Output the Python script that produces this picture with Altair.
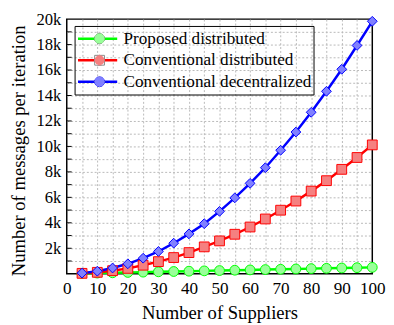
import altair as alt
import pandas as pd

suppliers = [5, 10, 15, 20, 25, 30, 35, 40, 45, 50, 55, 60, 65, 70, 75, 80, 85, 90, 95, 100]
proposed = [25, 50, 75, 100, 125, 150, 175, 200, 225, 250, 275, 300, 325, 350, 375, 400, 425, 450, 475, 500]
conv_distributed = [30, 110, 240, 420, 670, 950, 1270, 1660, 2110, 2580, 3100, 3670, 4300, 4990, 5710, 6490, 7310, 8200, 9130, 10120]
conv_decentralized = [50, 200, 450, 780, 1220, 1750, 2400, 3130, 3930, 4900, 5960, 7100, 8330, 9700, 11130, 12680, 14330, 16060, 17930, 19830]

series_names = ["Proposed distributed", "Conventional distributed", "Conventional decentralized"]
line_colors = ["#00ff00", "#ff0000", "#0000ff"]
fill_colors = ["#99ff99", "#f58080", "#8080ff"]
shapes = ["circle", "square", "diamond"]

x_ticks = list(range(0, 101, 5))
y_ticks = list(range(0, 20001, 1000))
y_inner_ticks = list(range(1000, 20000, 1000))

rows = []
for name, vals in zip(series_names, [proposed, conv_distributed, conv_decentralized]):
    for n, v in zip(suppliers, vals):
        rows.append({"n": n, "msgs": v, "series": name})
df = pd.DataFrame(rows)
ticks_df = pd.DataFrame({"msgs": y_inner_ticks})

FONT = "Liberation Serif"
x_scale = alt.Scale(domain=[0, 100], nice=False, zero=False)
y_scale = alt.Scale(domain=[0, 20000], nice=False)

x_axis = alt.Axis(
    values=x_ticks,
    labelExpr="datum.value % 10 == 0 ? datum.label : ''",
    title="Number of Suppliers",
    titleFont=FONT, titleFontSize=19, titleFontWeight="normal", titleColor="black",
    titleY=46, titleBaseline="alphabetic",
    labelFont=FONT, labelFontSize=17.5, labelColor="black", labelPadding=6,
    labelFlush=False, labelOverlap=False,
    ticks=False, domain=False,
    grid=True, gridColor="#b8b8b8", gridDash=[2, 2], gridWidth=1,
    gridOpacity={"condition": {"test": "datum.value == 0 || datum.value == 100", "value": 0}, "value": 1},
)
y_axis = alt.Axis(
    values=y_ticks,
    labelExpr="datum.value % 2000 == 0 && datum.value > 0 ? (datum.value / 1000) + 'k' : ''",
    title="Number of messages per iteration",
    titleFont=FONT, titleFontSize=19, titleFontWeight="normal", titleColor="black",
    titleX=-49, titleY=134, titleBaseline="middle", titleAngle=270,
    labelFont=FONT, labelFontSize=17, labelColor="black", labelPadding=6,
    labelFlush=False, labelOverlap=False,
    ticks=False, domain=False,
    grid=True, gridColor="#b8b8b8", gridDash=[2, 2], gridWidth=1,
    gridOpacity={"condition": {"test": "datum.value == 0 || datum.value == 20000", "value": 0}, "value": 1},
)

x_enc = alt.X("n:Q", scale=x_scale, axis=x_axis)
y_enc = alt.Y("msgs:Q", scale=y_scale, axis=y_axis)

lines = alt.Chart(df).mark_line(strokeWidth=2.5).encode(
    x=x_enc,
    y=y_enc,
    stroke=alt.Stroke(
        "series:N",
        scale=alt.Scale(domain=series_names, range=line_colors),
        legend=alt.Legend(
            title=None, orient="none", legendX=8, legendY=7, direction="vertical",
            symbolType="stroke", symbolSize=1600, symbolStrokeWidth=2.5,
            clipHeight=22, rowPadding=0, padding=2, labelOffset=5,
            labelFont=FONT, labelFontSize=17.5, labelColor="black", labelLimit=400,
            strokeColor="black", zindex=1,
        ),
    ),
    detail="series:N",
)

pt_legend = dict(
    title=None, orient="none", legendX=23, legendY=7, direction="vertical",
    symbolSize=100, symbolStrokeWidth=1, symbolFillColor="white", symbolOpacity=1,
    clipHeight=22, rowPadding=0, padding=2, labelOffset=5,
    labelFont=FONT, labelFontSize=17, labelExpr="''", labelLimit=400, zindex=2,
)

points = alt.Chart(df).transform_calculate(series_m="datum.series").mark_point(
    filled=False, size=100, strokeWidth=1, opacity=1
).encode(
    x=x_enc,
    y=y_enc,
    color=alt.Color(
        "series_m:N", sort=series_names,
        scale=alt.Scale(range=line_colors),
        legend=alt.Legend(**pt_legend),
    ),
    fill=alt.Fill(
        "series_m:N", sort=series_names,
        scale=alt.Scale(range=fill_colors),
        legend=alt.Legend(**pt_legend),
    ),
    shape=alt.Shape(
        "series_m:N", sort=series_names,
        scale=alt.Scale(range=shapes),
        legend=alt.Legend(**pt_legend),
    ),
)

inner_ticks = alt.Chart(ticks_df).mark_rule(color="black", strokeWidth=1).encode(
    y=y_enc,
    x=alt.value(0),
    x2=alt.value(5),
)

chart = alt.layer(lines, points, inner_ticks).properties(
    width=312,
    height=260,
    padding={"left": 60, "top": 8, "right": 14, "bottom": 49},
    autosize=alt.AutoSizeParams(type="none"),
    background="white",
).configure_view(stroke="black", strokeWidth=1.5)

chart.save("out.html", embed_options={"renderer": "svg", "actions": False})
